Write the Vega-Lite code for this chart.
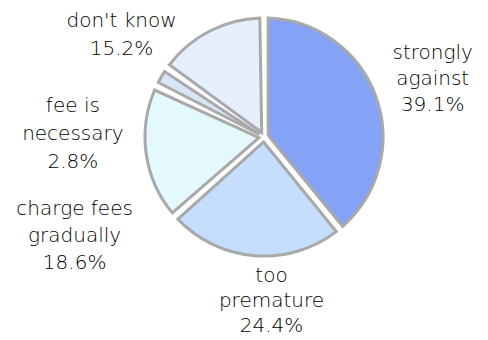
{
  "$schema": "https://vega.github.io/schema/vega-lite/v6.json",
  "width": 400,
  "height": 274,
  "autosize": {"type": "none"},
  "padding": {"left": 64, "top": 0, "right": 24, "bottom": 66},
  "background": "white",
  "view": {"stroke": null},
  "config": {"text": {"font": "DejaVu Sans", "fontSize": 20, "fontWeight": 200, "color": "#000000", "align": "center", "baseline": "middle", "lineBreak": "\n"}},
  "data": {
    "values": [
      {"idx": 1, "category": "strongly against", "percent": 39.1, "label": "strongly\nagainst\n39.1%"},
      {"idx": 2, "category": "too premature", "percent": 24.4, "label": "too\npremature\n24.4%"},
      {"idx": 3, "category": "charge fees gradually", "percent": 18.6, "label": "charge fees\ngradually\n18.6%"},
      {"idx": 4, "category": "fee is necessary", "percent": 2.8, "label": "fee is\nnecessary\n2.8%"},
      {"idx": 5, "category": "don't know", "percent": 15.2, "label": "don't know\n15.2%"}
    ]
  },
  "encoding": {
    "theta": {"field": "percent", "type": "quantitative", "stack": true},
    "order": {"field": "idx", "type": "quantitative"}
  },
  "layer": [
    {
      "mark": {"type": "arc", "outerRadius": 119, "innerRadius": 5, "padAngle": 0.07, "stroke": "#a9a9a9", "strokeWidth": 3},
      "encoding": {
        "color": {
          "field": "category",
          "type": "nominal",
          "scale": {
            "domain": ["strongly against", "too premature", "charge fees gradually", "fee is necessary", "don't know"],
            "range": ["#84a2f6", "#c6defd", "#e3f9fc", "#d6e6f8", "#e6f0fc"]
          },
          "legend": null
        }
      }
    },
    {
      "mark": {"type": "text", "radius": 160, "dx": 18, "dy": -30, "lineHeight": 26},
      "encoding": {"text": {"condition": {"test": "datum.idx === 1", "field": "label"}, "value": ""}}
    },
    {
      "mark": {"type": "text", "radius": 160, "dx": 20, "dy": -21, "lineHeight": 25},
      "encoding": {"text": {"condition": {"test": "datum.idx === 2", "field": "label"}, "value": ""}}
    },
    {
      "mark": {"type": "text", "radius": 160, "dx": -31, "dy": 49, "lineHeight": 27},
      "encoding": {"text": {"condition": {"test": "datum.idx === 3", "field": "label"}, "value": ""}}
    },
    {
      "mark": {"type": "text", "radius": 160, "dx": -53, "dy": 50, "lineHeight": 28},
      "encoding": {"text": {"condition": {"test": "datum.idx === 4", "field": "label"}, "value": ""}}
    },
    {
      "mark": {"type": "text", "radius": 160, "dx": -69, "dy": 26, "lineHeight": 28},
      "encoding": {"text": {"condition": {"test": "datum.idx === 5", "field": "label"}, "value": ""}}
    }
  ]
}
